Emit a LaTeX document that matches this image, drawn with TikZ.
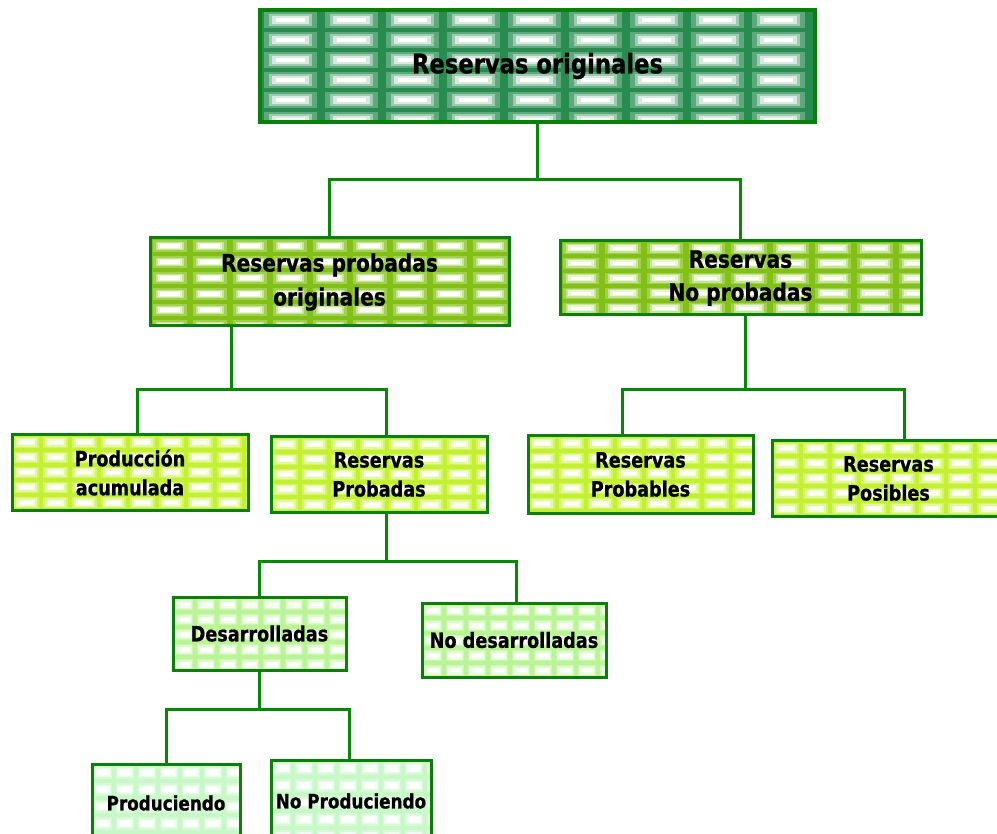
\documentclass[tikz,border=0pt]{standalone}
\usepackage{fontspec}
\setmainfont{DejaVu Sans}[FakeStretch=0.84,BoldFeatures={FakeBold=0.8}]
\usepackage{tikz}

\definecolor{boxline}{RGB}{10,128,10}
\definecolor{linkgreen}{RGB}{0,140,0}
\definecolor{deepgreen}{RGB}{40,140,80}
\definecolor{midgreen}{RGB}{130,192,22}
\definecolor{limegreen}{RGB}{196,240,48}
\definecolor{palegreen}{RGB}{186,244,150}
\definecolor{mintgreen}{RGB}{200,248,200}

\tikzset{
  tiles/.style n args={3}{path picture={
    \fill[#1] (path picture bounding box.south west) rectangle (path picture bounding box.north east);
    \coordinate (tl) at (path picture bounding box.north west);
    \foreach \i in {0,...,12} \foreach \j in {0,...,7} {
      \fill[#1!75!white] ([shift={(\i*#2+.07*#2,\j*#3+.12*#3)}]tl) rectangle ++(.86*#2,.76*#3);
      \fill[#1!45!white] ([shift={(\i*#2+.14*#2,\j*#3+.22*#3)}]tl) rectangle ++(.72*#2,.56*#3);
      \fill[#1!18!white] ([shift={(\i*#2+.20*#2,\j*#3+.30*#3)}]tl) rectangle ++(.60*#2,.40*#3);
      \fill[white] ([shift={(\i*#2+.26*#2,\j*#3+.38*#3)}]tl) rectangle ++(.48*#2,.24*#3);
    }
  }},
  resbox/.style={draw=boxline,line width=3pt,align=center,inner sep=0pt},
  link/.style={draw=linkgreen,line width=3pt}
}

\begin{document}
\begin{tikzpicture}[x=1pt,y=-1pt]
  \useasboundingbox (0,0) rectangle (997,834);

  \node[resbox,line width=4pt,tiles={deepgreen}{61}{20},minimum width=555,minimum height=112,
        font=\bfseries\fontsize{27}{30}\selectfont] (top) at (537.5,66) {Reservas originales};

  \node[resbox,tiles={midgreen}{40}{16},minimum width=359,minimum height=88,
        font=\bfseries\fontsize{24}{34}\selectfont] (rpo) at (329.5,282) {Reservas probadas\\originales};
  \node[resbox,tiles={midgreen}{42}{15},minimum width=361,minimum height=74,
        font=\bfseries\fontsize{24}{33}\selectfont] (rnp) at (740.5,278) {Reservas\\No probadas};

  \node[resbox,tiles={limegreen}{29}{15},minimum width=236,minimum height=75,
        font=\bfseries\fontsize{21}{29}\selectfont] (prod) at (130,472.5) {Producción\\acumulada};
  \node[resbox,tiles={limegreen}{29}{15},minimum width=216,minimum height=75,
        font=\bfseries\fontsize{21}{29}\selectfont] (rprob) at (379,474.5) {Reservas\\Probadas};
  \node[resbox,tiles={limegreen}{29}{15},minimum width=225,minimum height=77,
        font=\bfseries\fontsize{21}{29}\selectfont] (rpble) at (640.5,474.5) {Reservas\\Probables};
  \node[resbox,tiles={limegreen}{29}{15},minimum width=233,minimum height=75,
        font=\bfseries\fontsize{21}{29}\selectfont] (rpos) at (888.5,478.5) {Reservas\\Posibles};

  \node[resbox,tiles={palegreen}{22}{15},minimum width=173,minimum height=73,
        font=\bfseries\fontsize{21}{29}\selectfont] (des) at (259.5,633.5) {Desarrolladas};
  \node[resbox,tiles={palegreen}{22}{15},minimum width=184,minimum height=74,
        font=\bfseries\fontsize{21}{29}\selectfont] (nodes) at (514,640) {No desarrolladas};

  \node[resbox,tiles={mintgreen}{22}{17},minimum width=148,minimum height=78,
        font=\bfseries\fontsize{20}{28}\selectfont] (prodc) at (166,803) {Produciendo};
  \node[resbox,tiles={mintgreen}{22}{17},minimum width=160,minimum height=82,
        font=\bfseries\fontsize{20}{28}\selectfont] (noprod) at (351,801) {No~Produciendo};

  \draw[link] (top.south) -- ++(0,56) coordinate (j1);
  \draw[link] (rpo.north) |- (j1) -| (rnp.north);

  \draw[link] ([xshift=-98.5pt]rpo.south) -- ++(0,62) coordinate (j2);
  \draw[link] ([xshift=7pt]prod.north) |- (j2) -| ([xshift=7pt]rprob.north);

  \draw[link] ([xshift=4.5pt]rnp.south) -- ++(0,73) coordinate (j3);
  \draw[link] ([xshift=-18.5pt]rpble.north) |- (j3) -| ([xshift=15.5pt]rpos.north);

  \draw[link] ([xshift=7pt]rprob.south) -- ++(0,48) coordinate (j4);
  \draw[link] (des.north) |- (j4) -| ([xshift=2pt]nodes.north);

  \draw[link] (des.south) -- ++(0,38) coordinate (j5);
  \draw[link] (prodc.north) |- (j5) -| ([xshift=-2pt]noprod.north);
\end{tikzpicture}
\end{document}
